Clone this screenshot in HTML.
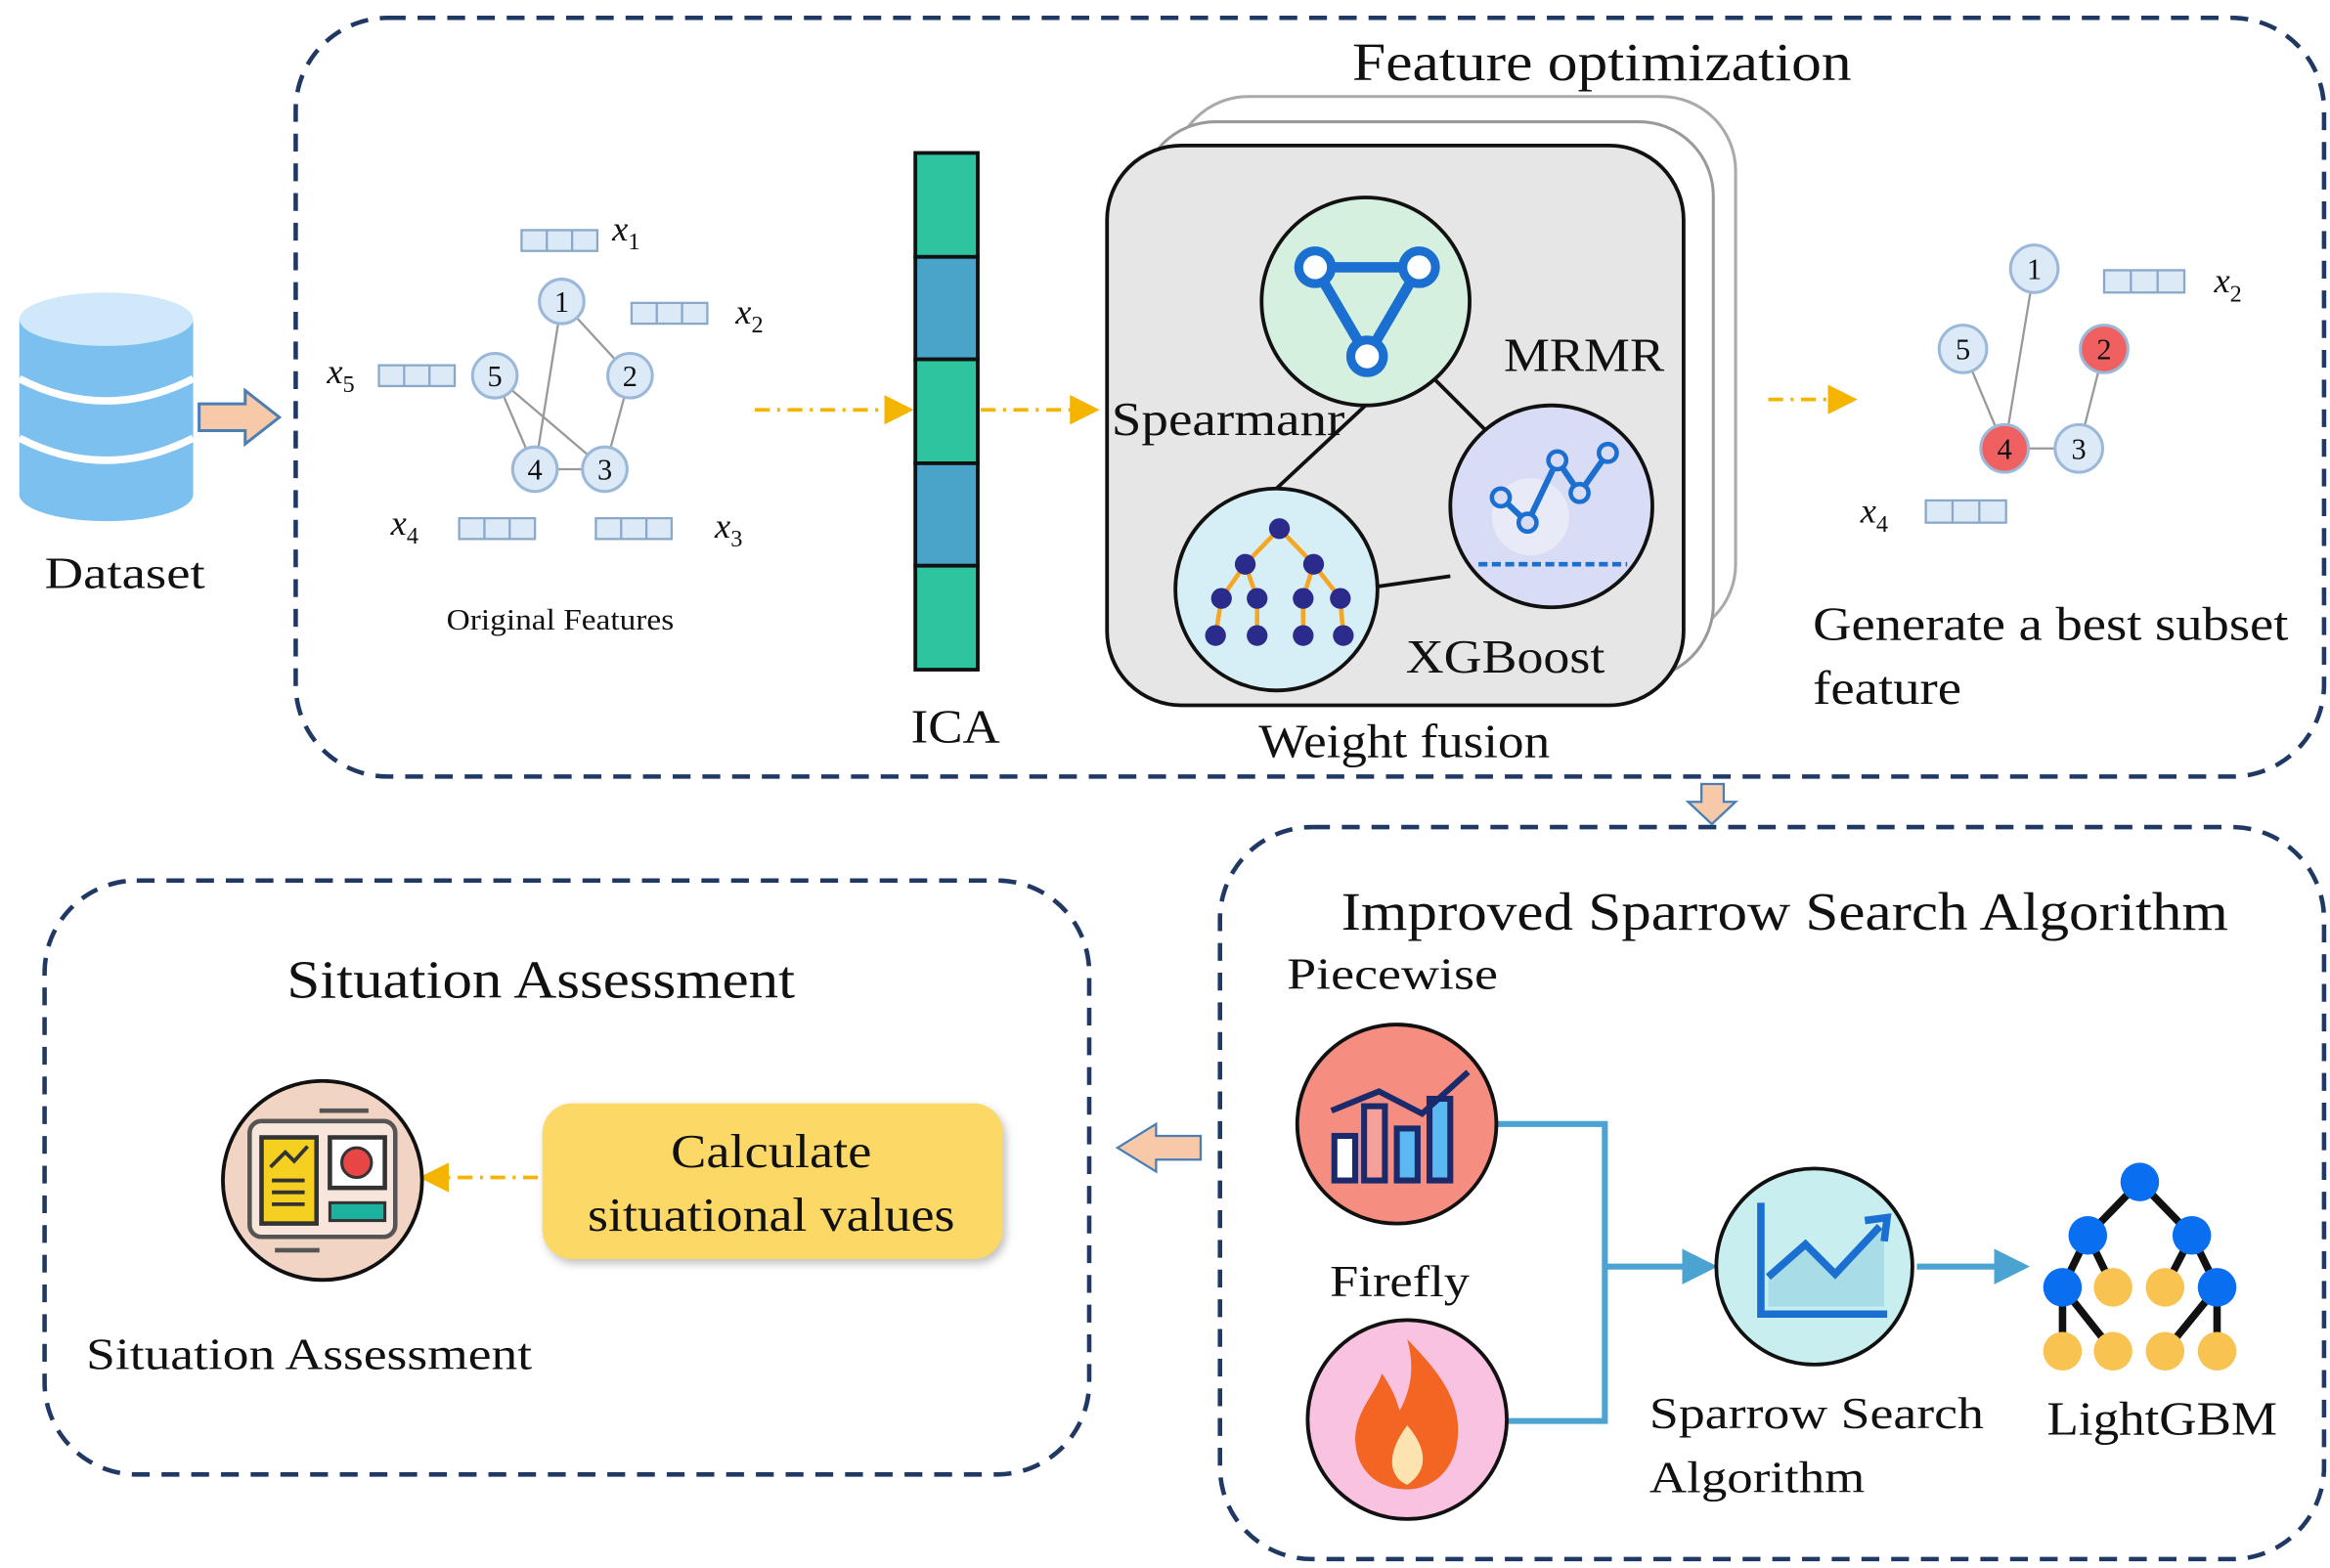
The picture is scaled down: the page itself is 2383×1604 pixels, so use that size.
<!DOCTYPE html>
<html><head><meta charset="utf-8"><style>
html,body{margin:0;padding:0;background:#fff;}
svg{display:block;}
text{font-family:"Liberation Serif",serif;fill:#111;}
</style></head><body>
<svg width="2383" height="1604" viewBox="0 0 1568 1056" preserveAspectRatio="none" xmlns="http://www.w3.org/2000/svg">
<defs>
<marker id="oa" markerWidth="8" markerHeight="8" refX="6" refY="4" orient="auto"><path d="M0,0 L8,4 L0,8 Z" fill="#f5b400"/></marker>
<marker id="ba" markerWidth="6" markerHeight="6" refX="4" refY="3" orient="auto"><path d="M0,0 L6,3 L0,6 Z" fill="#4aa3d0"/></marker>
</defs>
<rect x="199" y="12" width="1365" height="511" rx="62" fill="none" stroke="#1f3864" stroke-width="3" stroke-dasharray="12,8"/>
<rect x="821" y="557" width="743" height="493" rx="62" fill="none" stroke="#1f3864" stroke-width="3" stroke-dasharray="12,8"/>
<rect x="30" y="593" width="703" height="400" rx="62" fill="none" stroke="#1f3864" stroke-width="3" stroke-dasharray="12,8"/>

<g>
<rect x="13" y="215" width="117" height="118" fill="#7cc0ef"/>
<ellipse cx="71.5" cy="333" rx="58.5" ry="18" fill="#7cc0ef"/>
<path d="M13,255 Q71,285 130,255" stroke="#fff" stroke-width="5" fill="none"/>
<path d="M13,295 Q71,325 130,295" stroke="#fff" stroke-width="5" fill="none"/>
<ellipse cx="71.5" cy="215" rx="58.5" ry="18" fill="#cfe8fa"/>
</g>
<text x="84" y="396" font-size="30" text-anchor="middle" textLength="108" lengthAdjust="spacingAndGlyphs">Dataset</text>
<path d="M134,272 L165,272 L165,263 L188,281 L165,299 L165,290 L134,290 Z" fill="#f8c9a8" stroke="#4a7fb5" stroke-width="2"/>

<g stroke="#999" stroke-width="1.5">
<line x1="378" y1="203" x2="424" y2="253"/><line x1="378" y1="203" x2="360" y2="316"/>
<line x1="424" y1="253" x2="407" y2="316"/><line x1="407" y1="316" x2="360" y2="316"/>
<line x1="333" y1="253" x2="360" y2="316"/><line x1="333" y1="253" x2="407" y2="316"/>
</g>
<g fill="#dce9f7" stroke="#9bb8d8" stroke-width="2">
<circle cx="378" cy="203" r="15"/><circle cx="424" cy="253" r="15"/><circle cx="407" cy="316" r="15"/><circle cx="360" cy="316" r="15"/><circle cx="333" cy="253" r="15"/>
</g>
<g font-size="20" text-anchor="middle">
<text x="378" y="210">1</text><text x="424" y="260">2</text><text x="407" y="323">3</text><text x="360" y="323">4</text><text x="333" y="260">5</text>
</g>
<g fill="#dce9f7" stroke="#8aa8c8" stroke-width="1.5">
<rect x="351" y="155" width="51" height="14"/><rect x="425" y="204" width="51" height="14"/><rect x="255" y="246" width="51" height="14"/><rect x="309" y="349" width="51" height="14"/><rect x="401" y="349" width="51" height="14"/>
<rect x="1416" y="182" width="54" height="15"/><rect x="1296" y="337" width="54" height="15"/>
</g>
<g stroke="#8aa8c8" stroke-width="1.5">
<line x1="368" y1="155" x2="368" y2="169"/><line x1="385" y1="155" x2="385" y2="169"/>
<line x1="442" y1="204" x2="442" y2="218"/><line x1="459" y1="204" x2="459" y2="218"/>
<line x1="272" y1="246" x2="272" y2="260"/><line x1="289" y1="246" x2="289" y2="260"/>
<line x1="326" y1="349" x2="326" y2="363"/><line x1="343" y1="349" x2="343" y2="363"/>
<line x1="418" y1="349" x2="418" y2="363"/><line x1="435" y1="349" x2="435" y2="363"/>
<line x1="1434" y1="182" x2="1434" y2="197"/><line x1="1452" y1="182" x2="1452" y2="197"/>
<line x1="1314" y1="337" x2="1314" y2="352"/><line x1="1332" y1="337" x2="1332" y2="352"/>
</g>
<g font-size="24" font-style="italic">
<text x="412" y="162">x<tspan font-size="16" dy="6" font-style="normal">1</tspan></text>
<text x="495" y="218">x<tspan font-size="16" dy="6" font-style="normal">2</tspan></text>
<text x="220" y="258">x<tspan font-size="16" dy="6" font-style="normal">5</tspan></text>
<text x="263" y="360">x<tspan font-size="16" dy="6" font-style="normal">4</tspan></text>
<text x="481" y="362">x<tspan font-size="16" dy="6" font-style="normal">3</tspan></text>
<text x="1490" y="197">x<tspan font-size="16" dy="6" font-style="normal">2</tspan></text>
<text x="1252" y="352">x<tspan font-size="16" dy="6" font-style="normal">4</tspan></text>
</g>
<text x="377" y="424" font-size="20" text-anchor="middle" textLength="153" lengthAdjust="spacingAndGlyphs">Original Features</text>

<g stroke="#f5b400" stroke-width="2.5" stroke-dasharray="10,5,2,5" fill="none">
<line x1="508" y1="276" x2="610" y2="276" marker-end="url(#oa)"/>
<line x1="660" y1="276" x2="735" y2="276" marker-end="url(#oa)"/>
<line x1="1190" y1="269" x2="1245" y2="269" marker-end="url(#oa)"/>
<line x1="362" y1="793" x2="287" y2="793" marker-end="url(#oa)"/>
</g>

<g stroke="#111" stroke-width="2.5">
<rect x="616" y="103" width="42" height="70" fill="#2ec4a0"/>
<rect x="616" y="173" width="42" height="69" fill="#4aa3c8"/>
<rect x="616" y="242" width="42" height="70" fill="#2ec4a0"/>
<rect x="616" y="312" width="42" height="69" fill="#4aa3c8"/>
<rect x="616" y="381" width="42" height="70" fill="#2ec4a0"/>
</g>
<text x="643" y="500" font-size="32" text-anchor="middle" textLength="60" lengthAdjust="spacingAndGlyphs">ICA</text>

<rect x="790" y="65" width="378" height="365" rx="50" fill="#fff" stroke="#aaa" stroke-width="2"/>
<rect x="768" y="82" width="385" height="375" rx="50" fill="#fff" stroke="#999" stroke-width="2"/>
<rect x="745" y="98" width="388" height="377" rx="50" fill="#e6e6e6" stroke="#111" stroke-width="2.5"/>
<g stroke="#111" stroke-width="2.5">
<line x1="919" y1="273" x2="859" y2="329"/><line x1="965" y1="255" x2="1000" y2="290"/><line x1="927" y1="395" x2="976" y2="388"/>
</g>
<circle cx="919" cy="203" r="70" fill="#d6f0e0" stroke="#111" stroke-width="2.5"/>
<path d="M885,180 L955,180 L920,240 Z" fill="none" stroke="#1a6fd0" stroke-width="7" stroke-linejoin="round"/>
<g fill="#fff" stroke="#1a6fd0" stroke-width="6"><circle cx="885" cy="180" r="11"/><circle cx="955" cy="180" r="11"/><circle cx="920" cy="240" r="11"/></g>
<circle cx="1044" cy="341" r="68" fill="#d8dcf5" stroke="#111" stroke-width="2.5"/>
<circle cx="1030" cy="348" r="26" fill="#e8eaf8"/>
<polyline points="1010,335 1028,352 1048,310 1063,332 1082,305" fill="none" stroke="#1a6fd0" stroke-width="4"/>
<g fill="#d8dcf5" stroke="#1a6fd0" stroke-width="3"><circle cx="1010" cy="335" r="6"/><circle cx="1028" cy="352" r="6"/><circle cx="1048" cy="310" r="6"/><circle cx="1063" cy="332" r="6"/><circle cx="1082" cy="305" r="6"/></g>
<line x1="995" y1="380" x2="1095" y2="380" stroke="#1a6fd0" stroke-width="3" stroke-dasharray="6,3"/>
<circle cx="859" cy="397" r="68" fill="#d6eef5" stroke="#111" stroke-width="2.5"/>
<g stroke="#f5a623" stroke-width="3"><line x1="861" y1="356" x2="838" y2="380"/><line x1="861" y1="356" x2="884" y2="380"/>
<line x1="838" y1="380" x2="822" y2="403"/><line x1="838" y1="380" x2="846" y2="403"/><line x1="884" y1="380" x2="877" y2="403"/><line x1="884" y1="380" x2="902" y2="403"/>
<line x1="822" y1="403" x2="818" y2="428"/><line x1="846" y1="403" x2="846" y2="428"/><line x1="877" y1="403" x2="877" y2="428"/><line x1="902" y1="403" x2="904" y2="428"/></g>
<g fill="#2b2b8c"><circle cx="861" cy="356" r="7"/><circle cx="838" cy="380" r="7"/><circle cx="884" cy="380" r="7"/><circle cx="822" cy="403" r="7"/><circle cx="846" cy="403" r="7"/><circle cx="877" cy="403" r="7"/><circle cx="902" cy="403" r="7"/><circle cx="818" cy="428" r="7"/><circle cx="846" cy="428" r="7"/><circle cx="877" cy="428" r="7"/><circle cx="904" cy="428" r="7"/></g>
<text x="748" y="293" font-size="32" textLength="157" lengthAdjust="spacingAndGlyphs">Spearmanr</text>
<text x="1012" y="250" font-size="32" textLength="108" lengthAdjust="spacingAndGlyphs">MRMR</text>
<text x="946" y="453" font-size="32" textLength="134" lengthAdjust="spacingAndGlyphs">XGBoost</text>
<text x="945" y="510" font-size="32" text-anchor="middle" textLength="196" lengthAdjust="spacingAndGlyphs">Weight fusion</text>
<text x="1078" y="54" font-size="36" text-anchor="middle" textLength="336" lengthAdjust="spacingAndGlyphs">Feature optimization</text>

<g stroke="#999" stroke-width="1.5">
<line x1="1369" y1="181" x2="1349" y2="302"/><line x1="1416" y1="235" x2="1399" y2="302"/><line x1="1399" y1="302" x2="1349" y2="302"/><line x1="1321" y1="235" x2="1349" y2="302"/>
</g>
<g stroke="#9bb8d8" stroke-width="2">
<circle cx="1369" cy="181" r="16" fill="#dce9f7"/><circle cx="1416" cy="235" r="16" fill="#f06060"/><circle cx="1399" cy="302" r="16" fill="#dce9f7"/><circle cx="1349" cy="302" r="16" fill="#f06060"/><circle cx="1321" cy="235" r="16" fill="#dce9f7"/>
</g>
<g font-size="20" text-anchor="middle">
<text x="1369" y="188">1</text><text x="1416" y="242">2</text><text x="1399" y="309">3</text><text x="1349" y="309">4</text><text x="1321" y="242">5</text>
</g>
<text x="1220" y="431" font-size="32" textLength="320" lengthAdjust="spacingAndGlyphs">Generate a best subset</text>
<text x="1220" y="474" font-size="32" textLength="100" lengthAdjust="spacingAndGlyphs">feature</text>

<path d="M1145,528 L1160,528 L1160,540 L1168,540 L1152,555 L1136,540 L1145,540 Z" fill="#f8c9a8" stroke="#4a7fb5" stroke-width="1.5"/>

<text x="1201" y="626" font-size="36" text-anchor="middle" textLength="597" lengthAdjust="spacingAndGlyphs">Improved Sparrow Search Algorithm</text>
<text x="866" y="666" font-size="30" textLength="142" lengthAdjust="spacingAndGlyphs">Piecewise</text>
<g stroke="#4aa3d0" stroke-width="4" fill="none">
<polyline points="1008,757 1080,757 1080,957 1014,957"/>
<line x1="1080" y1="853" x2="1148" y2="853" marker-end="url(#ba)"/>
<line x1="1290" y1="853" x2="1358" y2="853" marker-end="url(#ba)"/>
</g>
<circle cx="940" cy="757" r="67" fill="#f58d80" stroke="#111" stroke-width="2.5"/>
<g stroke="#1b2a6b" stroke-width="4" fill="#fff"><rect x="898" y="765" width="14" height="30"/><rect x="918" y="745" width="14" height="50" fill="#f5a09a"/><rect x="940" y="760" width="14" height="35" fill="#5bb8f0"/><rect x="962" y="740" width="14" height="55" fill="#5bb8f0"/></g>
<polyline points="896,748 928,735 957,750 988,722" fill="none" stroke="#1b2a6b" stroke-width="4"/>
<text x="942" y="873" font-size="30" text-anchor="middle" textLength="94" lengthAdjust="spacingAndGlyphs">Firefly</text>
<circle cx="947" cy="956" r="67" fill="#f9c2e0" stroke="#111" stroke-width="2.5"/>
<path d="M947,902 C975,930 985,950 980,975 C975,995 960,1003 947,1003 C930,1003 913,993 912,970 C912,950 925,940 930,925 C940,940 940,945 942,950 C950,935 952,920 947,902 Z" fill="#f26522"/>
<path d="M947,960 C960,975 962,990 947,1000 C935,995 932,980 947,960 Z" fill="#fde3b0"/>
<circle cx="1221" cy="853" r="66" fill="#c8eef0" stroke="#111" stroke-width="2.5"/>
<path d="M1185,810 L1185,885 L1270,885" fill="none" stroke="#1a6fd0" stroke-width="5"/>
<path d="M1190,860 L1215,838 L1235,858 L1268,825 L1268,880 L1190,880 Z" fill="#a8dde8"/>
<polyline points="1190,860 1215,838 1235,858 1265,826" fill="none" stroke="#1a6fd0" stroke-width="5"/>
<path d="M1255,822 L1270,820 L1268,836" fill="none" stroke="#1a6fd0" stroke-width="5"/>
<text x="1110" y="962" font-size="30" textLength="225" lengthAdjust="spacingAndGlyphs">Sparrow Search</text>
<text x="1110" y="1005" font-size="30" textLength="145" lengthAdjust="spacingAndGlyphs">Algorithm</text>
<g stroke="#111" stroke-width="5">
<line x1="1440" y1="796" x2="1405" y2="832"/><line x1="1440" y1="796" x2="1475" y2="832"/>
<line x1="1405" y1="832" x2="1388" y2="867"/><line x1="1405" y1="832" x2="1422" y2="867"/><line x1="1475" y1="832" x2="1457" y2="867"/><line x1="1475" y1="832" x2="1492" y2="867"/>
<line x1="1388" y1="867" x2="1388" y2="910"/><line x1="1388" y1="867" x2="1422" y2="910"/><line x1="1492" y1="867" x2="1457" y2="910"/><line x1="1492" y1="867" x2="1492" y2="910"/>
</g>
<g fill="#0a6ef0"><circle cx="1440" cy="796" r="13"/><circle cx="1405" cy="832" r="13"/><circle cx="1475" cy="832" r="13"/><circle cx="1388" cy="867" r="13"/><circle cx="1492" cy="867" r="13"/></g>
<g fill="#f8c350"><circle cx="1422" cy="867" r="13"/><circle cx="1457" cy="867" r="13"/><circle cx="1388" cy="910" r="13"/><circle cx="1422" cy="910" r="13"/><circle cx="1457" cy="910" r="13"/><circle cx="1492" cy="910" r="13"/></g>
<text x="1455" y="966" font-size="32" text-anchor="middle" textLength="155" lengthAdjust="spacingAndGlyphs">LightGBM</text>

<path d="M808,765 L778,765 L778,757 L752,773 L778,789 L778,781 L808,781 Z" fill="#f8c9a8" stroke="#4a7fb5" stroke-width="1.5"/>

<text x="364" y="672" font-size="36" text-anchor="middle" textLength="342" lengthAdjust="spacingAndGlyphs">Situation Assessment</text>
<rect x="365" y="743" width="310" height="105" rx="20" fill="#fcd966" filter="drop-shadow(2px 3px 3px rgba(0,0,0,0.25))"/>
<text x="519" y="786" font-size="32" text-anchor="middle" textLength="135" lengthAdjust="spacingAndGlyphs">Calculate</text>
<text x="519" y="829" font-size="32" text-anchor="middle" textLength="247" lengthAdjust="spacingAndGlyphs">situational values</text>
<circle cx="217" cy="795" r="67" fill="#f2d4c4" stroke="#111" stroke-width="2.5"/>
<rect x="168" y="755" width="98" height="78" rx="8" fill="#f8e6dc" stroke="#555" stroke-width="3"/>
<line x1="215" y1="748" x2="248" y2="748" stroke="#555" stroke-width="3"/>
<line x1="185" y1="842" x2="215" y2="842" stroke="#555" stroke-width="3"/>
<rect x="176" y="766" width="37" height="58" fill="#f5d020" stroke="#333" stroke-width="3"/>
<g stroke="#333" stroke-width="2.5"><line x1="183" y1="795" x2="205" y2="795"/><line x1="183" y1="803" x2="205" y2="803"/><line x1="183" y1="811" x2="205" y2="811"/></g>
<polyline points="182,786 192,776 198,782 207,772" fill="none" stroke="#333" stroke-width="2.5"/>
<rect x="222" y="766" width="37" height="34" fill="#fff" stroke="#333" stroke-width="3"/>
<circle cx="240" cy="783" r="10" fill="#e84545" stroke="#333" stroke-width="2"/>
<rect x="222" y="810" width="37" height="12" fill="#1bb3a0" stroke="#333" stroke-width="2"/>
<text x="58" y="922" font-size="30" textLength="300" lengthAdjust="spacingAndGlyphs">Situation Assessment</text>
</svg>
</body></html>
